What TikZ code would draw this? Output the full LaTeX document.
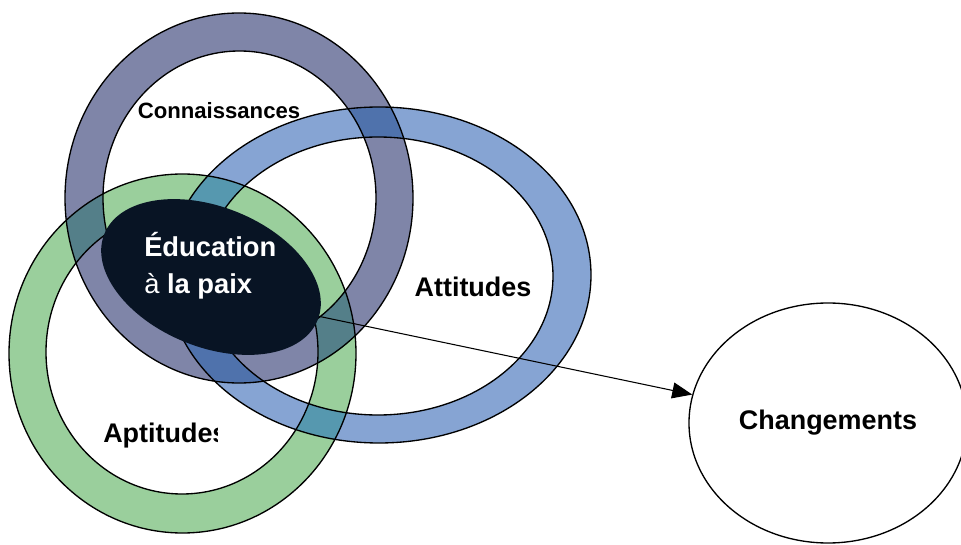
\documentclass[tikz,border=0pt]{standalone}
\usepackage{fontspec}
\setmainfont{Liberation Sans}
\usetikzlibrary{shapes.geometric,arrows.meta}

% ring colours and the colours of the places where two rings cross
\definecolor{knowfill}{HTML}{7F85A8}
\definecolor{attfill}{HTML}{86A4D3}
\definecolor{aptfill}{HTML}{9ACF9C}
\definecolor{knowatt}{HTML}{4F72AC}
\definecolor{knowapt}{HTML}{547F89}
\definecolor{attapt}{HTML}{5698AF}
\definecolor{corefill}{HTML}{081424}

\begin{document}
\begin{tikzpicture}[
  x=0.75pt, y=-0.75pt,
  % each ring = outer ellipse + inner ellipse, filled with the even odd rule
  knowring/.style={insert path={(239,198) ellipse [x radius=174, y radius=185]
                                (239.5,198) ellipse [x radius=136.5, y radius=147]}},
  attring/.style={insert path={(379,275) ellipse [x radius=212, y radius=168]
                               (378,276) ellipse [x radius=175, y radius=139]}},
  aptring/.style={insert path={(182.5,353.5) ellipse [x radius=173.5, y radius=179.5]
                               (182,352) ellipse [x radius=136, y radius=142]}},
  ringedge/.style={draw=black, line width=1pt},
  biglabel/.style={font=\fontsize{20.2}{24}\selectfont\bfseries, inner sep=0pt},
  smalllabel/.style={font=\fontsize{16.6}{20}\selectfont\bfseries, inner sep=0pt},
]
\fill[white] (0,0) rectangle (961,545);
\useasboundingbox (0,0) rectangle (961,545);

% ring bands
\fill[knowfill, even odd rule, knowring];
\fill[attfill, even odd rule, attring];
\fill[aptfill, even odd rule, aptring];

% crossings of two bands
\begin{scope}[even odd rule]
  \clip (239,198) ellipse [x radius=174, y radius=185]
        (239.5,198) ellipse [x radius=136.5, y radius=147];
  \fill[knowatt, attring];
\end{scope}
\begin{scope}[even odd rule]
  \clip (239,198) ellipse [x radius=174, y radius=185]
        (239.5,198) ellipse [x radius=136.5, y radius=147];
  \fill[knowapt, aptring];
\end{scope}
\begin{scope}[even odd rule]
  \clip (379,275) ellipse [x radius=212, y radius=168]
        (378,276) ellipse [x radius=175, y radius=139];
  \fill[attapt, aptring];
\end{scope}

% ring outlines
\path[ringedge, knowring];
\path[ringedge, attring];
\path[ringedge, aptring];

% central core
\node[ellipse, fill=corefill, inner sep=0pt, minimum width=172.5pt,
      minimum height=105pt, rotate=-22] (peace) at (211,277) {};
\node[anchor=west, align=left, text=white, inner sep=0pt,
      font=\fontsize{20.5}{27.75}\selectfont\bfseries] (edu) at (144,266)
      {Éducation\\{\mdseries à} la paix};

% ring labels
\node[smalllabel, anchor=base] (know) at (219,119) {Connaissances};
\node[biglabel, anchor=base] (att) at (473,297) {Attitudes};
\begin{scope}
  \clip (0,380) rectangle (217,470);
  \node[biglabel, anchor=base west] (apt) at (103,442) {Aptitudes};
\end{scope}

% outcome
\node[ellipse, draw=black, line width=1pt, inner sep=0pt,
      minimum width=208.5pt, minimum height=180pt,
      font=\fontsize{20.2}{24}\selectfont\bfseries] (chg) at (828,423) {Changements};

\draw[line width=0.8pt, -{Triangle[length=15pt,width=12pt]}] (peace.2) -- (chg);
\end{tikzpicture}
\end{document}
